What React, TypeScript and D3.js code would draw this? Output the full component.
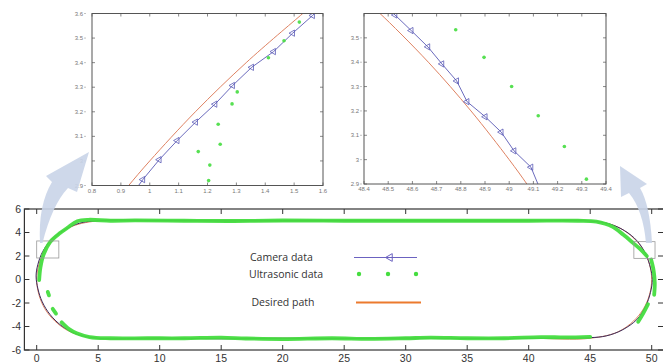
import React from 'react';
import * as d3 from 'd3';

type Pt = [number, number];

// main plot: camera track (closed loop)
const cameraTrack: Pt[] = [
  [5, 5.0], [10, 5.02], [15, 4.98], [20, 5.0], [25, 5.0], [30, 5.0], [35, 4.98], [40, 5.0], [45, 4.97],
  [46.5, 4.75], [47.8, 4.15], [48.8, 3.3], [49.5, 2.2], [49.9, 1.0], [50.05, 0], [49.9, -1.1],
  [49.5, -2.3], [48.8, -3.4], [47.6, -4.3], [46.3, -4.8], [45, -4.95], [40, -5.0], [35, -5.02],
  [30, -4.98], [25, -5.03], [20, -5.0], [15, -5.05], [10, -4.98], [5, -5.0], [3.4, -4.7], [2.1, -4.0],
  [1.1, -3.0], [0.45, -1.9], [0.1, -0.8], [-0.05, 0.3], [0.1, 1.3], [0.5, 2.4], [1.2, 3.4], [2.2, 4.2],
  [3.5, 4.8],
];

// main plot: ultrasonic data, drawn as dense runs
const ultrasonicRuns: Pt[][] = [
  [[0.2, -0.05], [0.3, 1.0], [0.55, 2.1], [1.1, 3.2], [1.9, 3.95], [2.5, 4.4], [3.3, 4.95], [4.2, 5.08],
   [6, 5.0], [8, 5.03], [12, 5.0], [16, 4.98], [20, 5.02], [25, 5.0], [30, 5.0], [35, 5.0], [40, 5.0],
   [44, 5.0], [45.5, 4.92], [46.8, 4.5], [47.7, 3.8], [48.5, 3.1], [49.05, 2.6], [49.6, 2.0]],
  [[49.95, 1.7], [50.15, 0.8], [50.25, -0.3], [50.2, -1.3]],
  [[49.7, -2.1], [49.3, -2.9], [48.9, -3.6]],
  [[45.0, -4.88], [43, -4.93], [41, -4.9], [38, -5.0], [35, -5.0], [32, -4.95], [30, -5.0], [27, -5.05],
   [24, -5.0], [20, -5.07], [17, -5.02], [15, -4.95], [12, -5.0], [9, -5.0], [6, -5.0], [4.3, -4.9],
   [3.25, -4.58], [2.6, -4.2], [2.03, -3.65]],
  [[1.3, -2.5], [1.57, -2.9]],
  [[0.9, -1.05], [1.0, -1.35]],
];

// main plot: desired path
const desiredTrack: Pt[] = [
  [5, 5], [10, 5], [20, 5], [30, 5], [40, 5], [45, 5], [47.5, 4.33], [49.33, 2.5], [50, 0],
  [49.33, -2.5], [47.5, -4.33], [45, -5], [40, -5], [30, -5], [20, -5], [10, -5], [5, -5],
  [2.5, -4.33], [0.67, -2.5], [0, 0], [0.67, 2.5], [2.5, 4.33],
];

const zoomBoxes: [number, number, number, number][] = [
  [0.0, 1.8, 1.83, 3.28],
  [48.55, 50.27, 1.8, 3.22],
];

const mainXTicks = [0, 5, 10, 15, 20, 25, 30, 35, 40, 45, 50];
const mainYTicks = [-6, -4, -2, 0, 2, 4, 6];

// inset 1 (left turn)
const in1Camera: Pt[] = [
  [0.955, 2.89], [0.976, 2.924], [1.033, 3.005], [1.095, 3.083], [1.159, 3.158], [1.226, 3.231],
  [1.287, 3.307], [1.353, 3.381], [1.429, 3.445], [1.495, 3.52], [1.564, 3.592], [1.58, 3.61],
];
const in1CameraMarks: Pt[] = in1Camera.slice(1, 11);
const in1Ultra: Pt[] = [
  [1.204, 2.92], [1.208, 2.983], [1.168, 3.038], [1.244, 3.068], [1.237, 3.149], [1.285, 3.232],
  [1.303, 3.281], [1.411, 3.42], [1.465, 3.489], [1.518, 3.565],
];
const in1Desired: Pt[] = [[0.9, 2.86], [0.927, 2.9], [1.0, 3.0], [1.158, 3.2], [1.334, 3.4], [1.53, 3.6], [1.56, 3.63]];
const in1XTicks = [0.8, 0.9, 1, 1.1, 1.2, 1.3, 1.4, 1.5, 1.6];
const in1YTicks = [2.9, 3, 3.1, 3.2, 3.3, 3.4, 3.5, 3.6];

// inset 2 (right turn)
const in2Camera: Pt[] = [
  [48.5, 3.62], [48.528, 3.594], [48.595, 3.53], [48.664, 3.463], [48.722, 3.393], [48.783, 3.323],
  [48.826, 3.238], [48.901, 3.176], [48.967, 3.113], [49.02, 3.036], [49.09, 2.969], [49.127, 2.88],
];
const in2CameraMarks: Pt[] = in2Camera.slice(1, 11);
const in2Ultra: Pt[] = [
  [48.779, 3.533], [48.896, 3.42], [49.01, 3.3], [49.12, 3.18], [49.228, 3.054], [49.319, 2.92],
];
const in2Desired: Pt[] = [[48.43, 3.63], [48.466, 3.6], [48.666, 3.4], [48.842, 3.2], [49.0, 3.0], [49.073, 2.9], [49.1, 2.86]];
const in2XTicks = [48.4, 48.5, 48.6, 48.7, 48.8, 48.9, 49, 49.1, 49.2, 49.3, 49.4];
const in2YTicks = [2.9, 3, 3.1, 3.2, 3.3, 3.4, 3.5];

const legendLabels = ['Camera data', 'Ultrasonic data', 'Desired path'];

const CAM = '#3a2c5c';
const CAM_IN = '#5a5ab6';
const GREEN = '#45dd3f';
const DESIRED = '#de8262';
const LEG_ORANGE = '#ec7a2e';
const ARROW = '#c9d4e8';

const fmt = (v: number) => String(+v.toFixed(2));

function Inset(props: {
  id: string; xd: [number, number]; yd: [number, number]; xr: [number, number]; yr: [number, number];
  camera: Pt[]; marks: Pt[]; ultra: Pt[]; desired: Pt[]; xt: number[]; yt: number[]; labelX: number;
}) {
  const { id, xd, yd, xr, yr, camera, marks, ultra, desired, xt, yt, labelX } = props;
  const x = d3.scaleLinear().domain(xd).range(xr);
  const y = d3.scaleLinear().domain(yd).range(yr);
  const line = d3.line<Pt>().x(d => x(d[0])).y(d => y(d[1]));
  const smooth = d3.line<Pt>().x(d => x(d[0])).y(d => y(d[1])).curve(d3.curveCatmullRom);
  const tri = d3.symbol().type(d3.symbolTriangle).size(17)();
  const tickFont = { fontFamily: 'Liberation Sans, Arial, sans-serif', fontSize: 6, fill: '#777' };
  return (
    <g>
      <defs>
        <clipPath id={id}>
          <rect x={xr[0]} y={yr[1]} width={xr[1] - xr[0]} height={yr[0] - yr[1]} />
        </clipPath>
      </defs>
      <rect x={xr[0]} y={yr[1]} width={xr[1] - xr[0]} height={yr[0] - yr[1]} fill="white" />
      <g clipPath={`url(#${id})`}>
        <path d={smooth(desired) || ''} fill="none" stroke={DESIRED} strokeWidth={1} />
        <path d={line(camera) || ''} fill="none" stroke={CAM_IN} strokeWidth={0.9} />
        {marks.map((d, i) => (
          <path key={i} d={tri || ''} transform={`translate(${x(d[0])},${y(d[1])}) rotate(-90)`}
            fill="none" stroke={CAM_IN} strokeWidth={0.8} />
        ))}
        {ultra.map((d, i) => (
          <circle key={i} cx={x(d[0])} cy={y(d[1])} r={1.8} fill={GREEN} opacity={0.9} />
        ))}
      </g>
      <rect x={xr[0]} y={yr[1]} width={xr[1] - xr[0]} height={yr[0] - yr[1]} fill="none" stroke="#555" strokeWidth={1} />
      {xt.map(t => (
        <g key={'x' + t}>
          <line x1={x(t)} x2={x(t)} y1={yr[0]} y2={yr[0] - 3} stroke="#555" strokeWidth={0.7} />
          <line x1={x(t)} x2={x(t)} y1={yr[1]} y2={yr[1] + 3} stroke="#555" strokeWidth={0.7} />
          <text x={x(t)} y={yr[0] + 7} textAnchor="middle" {...tickFont}>{fmt(t)}</text>
        </g>
      ))}
      {yt.map(t => (
        <g key={'y' + t}>
          <line x1={xr[0]} x2={xr[0] + 3} y1={y(t)} y2={y(t)} stroke="#555" strokeWidth={0.7} />
          <line x1={xr[1]} x2={xr[1] - 3} y1={y(t)} y2={y(t)} stroke="#555" strokeWidth={0.7} />
          <line x1={labelX + 1} x2={labelX + 3} y1={y(t)} y2={y(t)} stroke="#999" strokeWidth={0.6} />
          <text x={labelX} y={y(t) + 2} textAnchor="end" {...tickFont}>{fmt(t)}</text>
        </g>
      ))}
    </g>
  );
}

export default function App() {
  const W = 663, H = 363;
  const x = d3.scaleLinear().domain([-1, 51]).range([24.4, 664]);
  const y = d3.scaleLinear().domain([-6, 6]).range([350, 209]);
  const closed = d3.line<Pt>().x(d => x(d[0])).y(d => y(d[1])).curve(d3.curveCatmullRomClosed);
  const open = d3.line<Pt>().x(d => x(d[0])).y(d => y(d[1])).curve(d3.curveCatmullRom);
  const tri = d3.symbol().type(d3.symbolTriangle).size(26)();
  const axisFont = { fontFamily: 'Liberation Sans, Arial, sans-serif', fontSize: 10.5, fill: '#333' };
  const legFont = { fontFamily: 'Open Sans, sans-serif', fontSize: 10.5, fill: '#333' };
  const legY = [257.5, 274, 302.5];

  return (
    <svg width={W} height={H} style={{ position: 'absolute', left: 0, top: 0, background: 'white' }}>
      {/* main plot */}
      <path d={closed(desiredTrack) || ''} fill="none" stroke={DESIRED} strokeWidth={1} />
      <path d={closed(cameraTrack) || ''} fill="none" stroke={CAM} strokeWidth={1} />
      {ultrasonicRuns.map((run, i) => (
        <path key={i} d={open(run) || ''} fill="none" stroke={GREEN} strokeWidth={3.8}
          strokeLinecap="round" strokeLinejoin="round" opacity={0.95} />
      ))}
      {zoomBoxes.map((b, i) => (
        <rect key={i} x={x(b[0])} y={y(b[3])} width={x(b[1]) - x(b[0])} height={y(b[2]) - y(b[3])}
          fill="none" stroke="#999" strokeWidth={0.8} />
      ))}
      {/* frame */}
      <rect x={x(-1)} y={y(6)} width={x(51) - x(-1)} height={y(-6) - y(6)} fill="none" stroke="#333" strokeWidth={1.2} />
      {mainXTicks.map(t => (
        <g key={'mx' + t}>
          <line x1={x(t)} x2={x(t)} y1={y(-6)} y2={y(-6) - 5} stroke="#333" />
          <line x1={x(t)} x2={x(t)} y1={y(6)} y2={y(6) + 5} stroke="#333" />
          <text x={x(t)} y={362} textAnchor="middle" {...axisFont}>{t}</text>
        </g>
      ))}
      {mainYTicks.map(t => (
        <g key={'my' + t}>
          <line x1={x(-1)} x2={x(-1) + 5} y1={y(t)} y2={y(t)} stroke="#333" />
          <line x1={x(51)} x2={x(51) - 6} y1={y(t)} y2={y(t)} stroke="#333" />
          <text x={21} y={y(t) + 3.7} textAnchor="end" {...axisFont}>{t}</text>
        </g>
      ))}
      {/* legend */}
      {legendLabels.map((l, i) => (
        <text key={l} x={i === 1 ? 249 : i === 2 ? 251.5 : 250} y={legY[i] + 3.5} {...legFont}>{l}</text>
      ))}
      <line x1={354} x2={417} y1={legY[0]} y2={legY[0]} stroke="#6b62c0" strokeWidth={1.2} />
      <path d={tri || ''} transform={`translate(390,${legY[0]}) rotate(-90)`} fill="none" stroke="#6b62c0" strokeWidth={1} />
      {[359, 388, 416].map(cx => (
        <circle key={cx} cx={cx} cy={legY[1]} r={2.2} fill={GREEN} />
      ))}
      <line x1={356} x2={421} y1={legY[2]} y2={legY[2]} stroke={LEG_ORANGE} strokeWidth={1.8} />

      {/* insets */}
      <Inset id="c1" xd={[0.8, 1.6]} yd={[2.9, 3.6]} xr={[92, 323]} yr={[185.5, 13.5]}
        camera={in1Camera} marks={in1CameraMarks} ultra={in1Ultra} desired={in1Desired}
        xt={in1XTicks} yt={in1YTicks} labelX={83} />
      <Inset id="c2" xd={[48.4, 49.4]} yd={[2.9, 3.6]} xr={[364, 606]} yr={[184, 13.5]}
        camera={in2Camera} marks={in2CameraMarks} ultra={in2Ultra} desired={in2Desired}
        xt={in2XTicks} yt={in2YTicks} labelX={359} />

      {/* arrows */}
      <path d="M40,243 Q38,205 52,182 L46,176 L89,152 L77,192 L68,188 Q52,205 42.5,243 Z" fill={ARROW} opacity={0.9} />
      <path d="M652,243 Q650,205 640,188 L647,184 L620,166 L621,197 L629,193 Q643,210 646,243 Z" fill={ARROW} opacity={0.9} />
    </svg>
  );
}
